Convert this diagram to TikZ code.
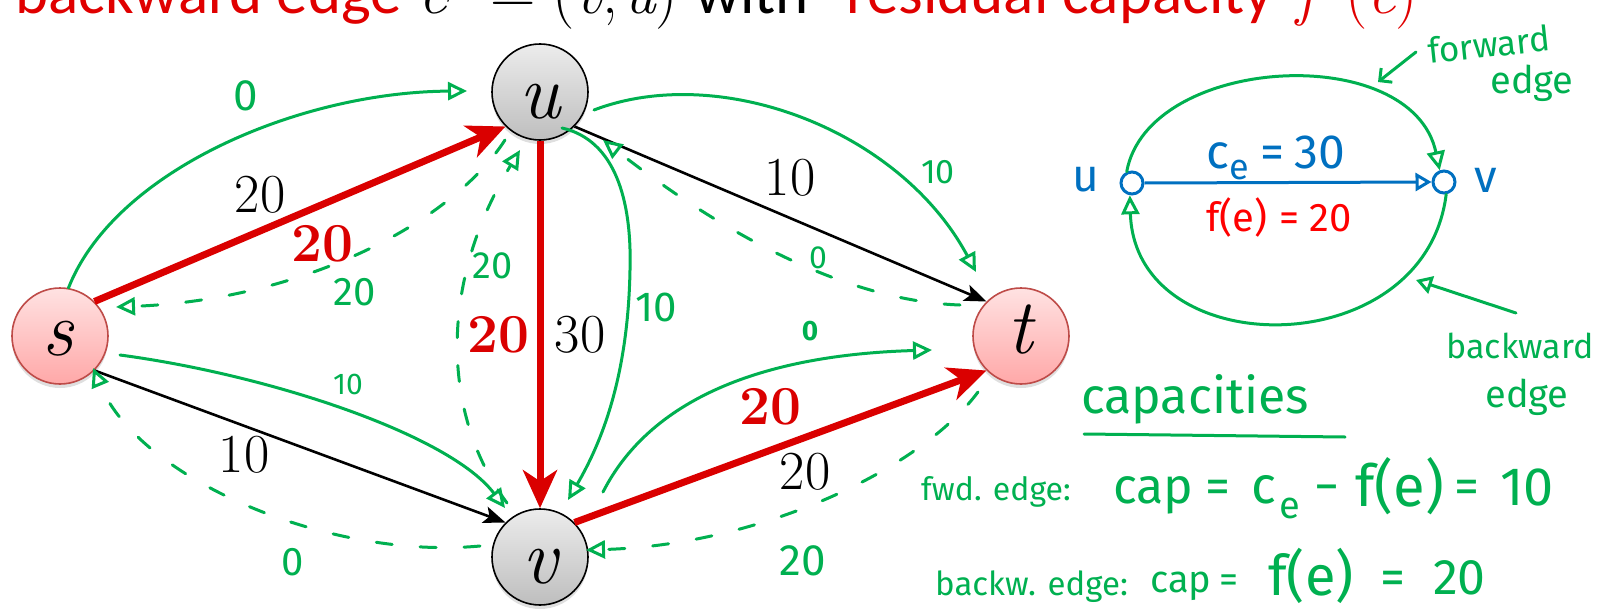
\documentclass[tikz,border=0pt]{standalone}
\usepackage{fontspec}
\usetikzlibrary{arrows.meta,shadows}
\newfontfamily\calfont{Carlito}
\newfontfamily\handfont{Fira Sans}
\newfontfamily\lmfont{Latin Modern Roman}
\definecolor{tred}{RGB}{224,0,0}
\definecolor{ered}{RGB}{218,0,0}
\definecolor{hgreen}{RGB}{0,176,80}
\definecolor{hblue}{RGB}{0,112,192}
\definecolor{hred}{RGB}{255,0,0}
\definecolor{pinkborder}{RGB}{190,75,72}
\definecolor{pinktop}{RGB}{255,226,226}
\definecolor{pinkbot}{RGB}{255,168,168}
\definecolor{graytop}{RGB}{236,236,236}
\definecolor{graybot}{RGB}{190,190,190}
\newcommand{\hs}[1]{\handfont\fontsize{#1}{#1}\selectfont}
\begin{document}
\begin{tikzpicture}[x=1pt,y=-1pt,
  vtx/.style={circle, line width=1.6pt, minimum size=96pt, inner sep=0pt,
    drop shadow={shadow xshift=0pt, shadow yshift=-4pt, opacity=0.25}},
  gvtx/.style={vtx, draw=black, top color=graytop, bottom color=graybot},
  pvtx/.style={vtx, draw=pinkborder, top color=pinktop, bottom color=pinkbot},
  vlabel/.style={inner sep=0pt, anchor=base, font=\lmfont\itshape\fontsize{78}{78}\selectfont},
  redge/.style={draw=ered, line width=7pt, -{Stealth[length=38pt,width=34pt,inset=11pt]}},
  bedge/.style={draw=black, line width=2.6pt, -{Stealth[length=22pt,width=17pt,inset=5pt]}},
  cnum/.style={inner sep=0pt, font=\lmfont\fontsize{55}{55}\selectfont},
  fnum/.style={inner sep=0pt, text=ered, font=\lmfont\fontsize{55}{55}\selectfont\bfseries},
  gline/.style={draw=hgreen, line width=3pt, line cap=round},
  gcurve/.style={gline, -{Triangle[open,length=19pt,width=18pt]}},
  gdashed/.style={gcurve, dash pattern=on 16pt off 28pt},
  gtxt/.style={inner sep=0pt, text=hgreen},
  btxt/.style={inner sep=0pt, text=hblue},
  rtxt/.style={inner sep=0pt, text=hred},
  ttl/.style={inner sep=0pt, anchor=base west, font=\calfont\fontsize{63}{63}\selectfont},
  tmath/.style={inner sep=0pt, anchor=base west, font=\lmfont\fontsize{63}{63}\selectfont},
]
\useasboundingbox (0,0) rectangle (1612,613);
\clip (0,0) rectangle (1612,613);

% title (cut at the top)
\node[ttl, text=tred] (t1) at (15,13) {backward edge};
\node[tmath] (t2) at (418,13) {\itshape e$'$};
\node[tmath] (t3) at (490,13) {=};
\node[tmath] (t4) at (552,13) {(\itshape v\upshape,\hspace{4pt}\itshape u\upshape)};
\node[ttl] (t5) at (695,13) {with};
\node[ttl, text=tred] (t6) at (846,13) {residual capacity};
\node[tmath, text=tred] (t7) at (1296,13) {\itshape f};
\node[tmath, text=tred] (t8) at (1345,13) {(\itshape e\upshape)};

% vertices
\node[pvtx] (s) at (60,336) {};
\node[gvtx] (u) at (540,92) {};
\node[gvtx] (v) at (540,557) {};
\node[pvtx] (t) at (1021,336) {};
\node[vlabel] (sl) at (58,355) {s};
\node[vlabel] (ul) at (540,118) {u};
\node[vlabel] (vl) at (540,583) {v};
\node[vlabel] (tl) at (1020,353) {t};

% flow edges
\draw[bedge] (s.-45) -- (v.135);
\draw[bedge] (u.-45) -- (t.135);
\draw[redge] (s.45) -- (u.225);
\draw[redge] (u.south) -- (v.north);
\draw[redge] (v.45) -- (t.225);

% edge labels
\node[cnum] (lsu) at (260,195) {20};
\node[fnum] (fsu) at (322,244) {20};
\node[fnum] (fuv) at (498,335) {20};
\node[cnum] (luv) at (580,335) {30};
\node[cnum] (lut) at (790,178) {10};
\node[cnum] (lsv) at (244,455) {10};
\node[fnum] (fvt) at (770,407) {20};
\node[cnum] (lvt) at (805,472) {20};

% residual edges (green)
\coordinate (g1e) at (467,91);
\draw[gcurve] (s.80) .. controls (115,170) and (300,92) .. (g1e);
\coordinate (g2s) at (505,140);
\coordinate (g2e) at (116,307);
\draw[gdashed] (g2s) .. controls (450,225) and (300,300) .. (g2e);
\coordinate (g3s) at (120,355);
\coordinate (g3e) at (505,508);
\draw[gcurve] (g3s) .. controls (270,375) and (450,435) .. (g3e);
\coordinate (g4s) at (594,110);
\coordinate (g4e) at (976,272);
\draw[gcurve] (g4s) .. controls (720,62) and (900,130) .. (g4e);
\coordinate (g5s) at (960,305);
\coordinate (g5e) at (603,140);
\draw[gdashed] (g5s) .. controls (820,300) and (680,200) .. (g5e);
\coordinate (g6s) at (562,128);
\coordinate (g6e) at (568,500);
\draw[gcurve] (g6s) .. controls (615,140) and (632,200) .. (630,270) .. controls (628,380) and (600,445) .. (g6e);
\coordinate (g7s) at (507,503);
\coordinate (g7e) at (520,150);
\draw[gdashed] (g7s) .. controls (445,420) and (435,290) .. (g7e);
\coordinate (g8s) at (603,492);
\coordinate (g8e) at (932,350);
\draw[gcurve] (g8s) .. controls (650,400) and (760,355) .. (g8e);
\coordinate (g9s) at (978,392);
\coordinate (g9e) at (586,550);
\draw[gdashed] (g9s) .. controls (920,470) and (760,545) .. (g9e);
\coordinate (g10s) at (480,546);
\coordinate (g10e) at (93,368);
\draw[gdashed] (g10s) .. controls (330,560) and (140,480) .. (g10e);

% green labels
\node[gtxt, font=\hs{44}] (n1) at (246,96) {0};
\node[gtxt, font=\hs{40}] (n2) at (355,292) {20};
\node[gtxt, font=\hs{30}] (n3) at (348,384) {10};
\node[gtxt, font=\hs{34}] (n4) at (938,172) {10};
\node[gtxt, font=\hs{32}] (n5) at (818,258) {0};
\node[gtxt, font=\hs{42}] (n6) at (656,307) {10};
\node[gtxt, font=\hs{38}] (n7) at (493,266) {20};
\node[gtxt, font=\hs{28}\bfseries] (n8) at (810,331) {0};
\node[gtxt, font=\hs{44}] (n9) at (803,561) {20};
\node[gtxt, font=\hs{40}] (n10) at (293,562) {0};

% inset
\node[btxt, font=\hs{46}] (iu) at (1086,180) {u};
\node[btxt, font=\hs{46}] (iv) at (1486,180) {v};
\node[draw=hblue, circle, line width=3pt, minimum size=22pt, inner sep=0pt] (cu) at (1132,183) {};
\node[draw=hblue, circle, line width=3pt, minimum size=22pt, inner sep=0pt] (cv) at (1444,182) {};
\draw[hblue, line width=3pt, -{Triangle[open,length=16pt,width=18pt]}] (cu.east) -- (cv.west);
\node[btxt, font=\hs{48}, anchor=base west] (ce) at (1206,168) {c\raisebox{-11pt}{\hs{36}e}\hspace{12pt}=\hspace{10pt}30};
\node[rtxt, font=\hs{40}, anchor=base west] (fe) at (1206,231) {f(e)\hspace{12pt}=\hspace{10pt}20};
\draw[gcurve] (cu.115) .. controls (1148,55) and (1412,40) .. (cv.110);
\draw[gcurve] (cv.-80) .. controls (1425,365) and (1135,365) .. (cu.-100);

\node[gtxt, font=\hs{35}, anchor=base, rotate=6] (fwd) at (1490,57) {forward};
\node[gtxt, font=\hs{38}, anchor=base] (fedge) at (1532,93) {edge};
\coordinate (fa1) at (1416,52);
\coordinate (fa2) at (1378,82);
\draw[gline, -{Straight Barb[length=9pt,width=18pt]}] (fa1) -- (fa2);

\node[gtxt, font=\hs{34}, anchor=base] (bwd) at (1520,358) {backward};
\node[gtxt, font=\hs{38}, anchor=base] (bedge) at (1527,407) {edge};
\coordinate (ba1) at (1516,313);
\coordinate (ba2) at (1416,280);
\draw[gline, -{Triangle[open,length=16pt,width=18pt]}] (ba1) -- (ba2);

\node[gtxt, font=\hs{50}, anchor=base] (capt) at (1195,413) {capacities};
\coordinate (ul1) at (1084,434);
\coordinate (ul2) at (1345,437);
\draw[gline] (ul1) -- (ul2);

% formula lines
\node[gtxt, font=\hs{32}, anchor=base west] (fw1) at (921,500) {fwd. edge:};
\node[gtxt, font=\hs{50}, anchor=base west] (fw2) at (1113,503) {cap};
\node[gtxt, font=\hs{50}, anchor=base west] (fw3) at (1205,503) {=};
\node[gtxt, font=\hs{52}, anchor=base west] (fw4) at (1251,503) {c};
\node[gtxt, font=\hs{38}, anchor=base west] (fw5) at (1279,518) {e};
\node[gtxt, font=\hs{50}, anchor=base west] (fw6) at (1314,503) {−};
\node[gtxt, font=\hs{58}, anchor=base west] (fw7) at (1355,506) {f(e)};
\node[gtxt, font=\hs{50}, anchor=base west] (fw8) at (1454,503) {=};
\node[gtxt, font=\hs{54}, anchor=base west] (fw9) at (1500,505) {10};

\node[gtxt, font=\hs{33}, anchor=base west] (bw1) at (935,595) {backw. edge:};
\node[gtxt, font=\hs{38}, anchor=base west] (bw2) at (1150,592) {cap};
\node[gtxt, font=\hs{38}, anchor=base west] (bw3) at (1219,592) {=};
\node[gtxt, font=\hs{56}, anchor=base west] (bw4) at (1268,595) {f(e)};
\node[gtxt, font=\hs{50}, anchor=base west] (bw5) at (1380,594) {=};
\node[gtxt, font=\hs{50}, anchor=base west] (bw6) at (1433,594) {20};
\end{tikzpicture}
\end{document}
